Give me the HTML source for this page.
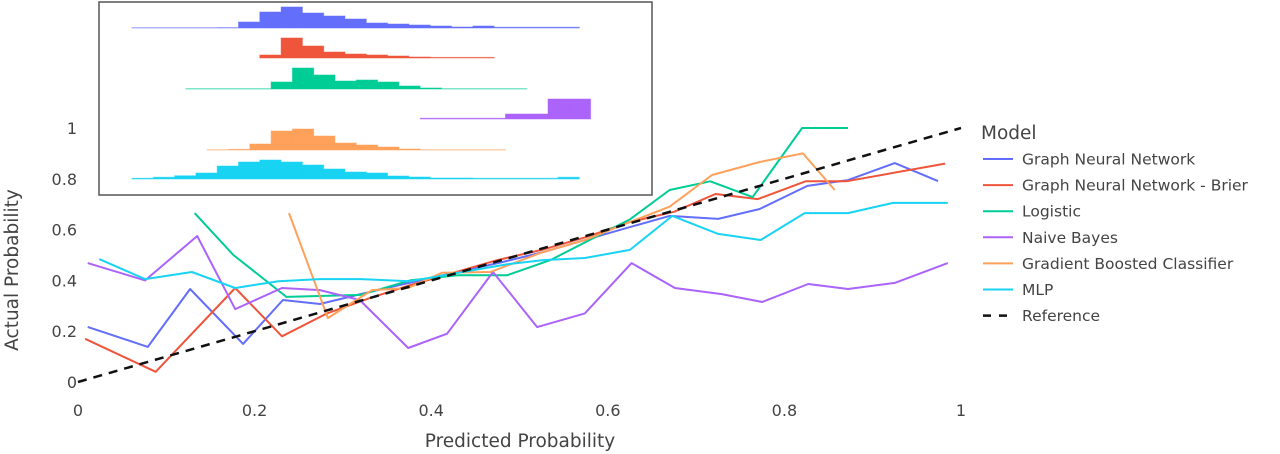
<!DOCTYPE html>
<html><head><meta charset="utf-8">
<style>
html,body{margin:0;padding:0;background:#fff;}
svg{display:block;font-family:"DejaVu Sans","Liberation Sans",sans-serif;}
</style></head>
<body>
<svg id="chart" width="1280" height="454" viewBox="0 0 1280 454" xmlns="http://www.w3.org/2000/svg">
<g id="axes"></g>
<g id="lines"></g>
<g id="inset"></g>
<g id="legend"></g>
<text x="520" y="447" text-anchor="middle" font-size="18.5" fill="#444">Predicted Probability</text>
<text transform="translate(18,270) rotate(-90)" text-anchor="middle" font-size="18.5" fill="#444">Actual Probability</text>
</svg>
<script>
const xTicks=[0,0.2,0.4,0.6,0.8,1];
const xTickLabels=["0","0.2","0.4","0.6","0.8","1"];
const yTicks=[0,0.2,0.4,0.6,0.8,1];
const yTickLabels=["0","0.2","0.4","0.6","0.8","1"];
const seriesNames=["Graph Neural Network","Graph Neural Network - Brier","Logistic","Naive Bayes","Gradient Boosted Classifier","MLP"];
const seriesColors=["#636efa","#ef553b","#00cc96","#ab63fa","#ffa15a","#19d3f3"];
const gnnX=[0.011,0.079,0.127,0.187,0.232,0.274,0.32,0.375,0.425,0.478,0.525,0.575,0.625,0.67,0.725,0.772,0.826,0.872,0.925,0.974];
const gnnY=[0.217,0.138,0.366,0.150,0.323,0.307,0.346,0.39,0.43,0.47,0.51,0.56,0.61,0.654,0.642,0.681,0.772,0.795,0.862,0.791];
const brierX=[0.008,0.088,0.178,0.231,0.282,0.33,0.375,0.425,0.475,0.525,0.575,0.625,0.675,0.722,0.77,0.824,0.87,0.982];
const brierY=[0.17,0.04,0.37,0.18,0.27,0.33,0.38,0.43,0.48,0.52,0.57,0.63,0.67,0.74,0.72,0.79,0.79,0.86];
const logX=[0.132,0.176,0.236,0.32,0.376,0.43,0.486,0.535,0.625,0.67,0.716,0.764,0.82,0.872];
const logY=[0.665,0.50,0.335,0.343,0.40,0.42,0.42,0.48,0.64,0.756,0.79,0.728,1.0,1.0];
const nbX=[0.011,0.076,0.135,0.178,0.231,0.274,0.319,0.374,0.418,0.47,0.52,0.574,0.627,0.676,0.729,0.775,0.827,0.872,0.925,0.985];
const nbY=[0.468,0.40,0.575,0.287,0.37,0.362,0.323,0.134,0.19,0.433,0.216,0.27,0.468,0.37,0.346,0.315,0.386,0.366,0.39,0.468];
const gbcX=[0.239,0.283,0.333,0.374,0.412,0.467,0.525,0.575,0.625,0.67,0.718,0.772,0.821,0.857];
const gbcY=[0.665,0.252,0.362,0.37,0.43,0.433,0.51,0.56,0.63,0.69,0.815,0.866,0.90,0.756];
const mlpX=[0.024,0.076,0.129,0.178,0.227,0.274,0.32,0.376,0.487,0.527,0.574,0.625,0.673,0.725,0.773,0.823,0.872,0.923,0.985];
const mlpY=[0.484,0.405,0.433,0.37,0.397,0.405,0.405,0.397,0.464,0.48,0.488,0.52,0.654,0.583,0.559,0.665,0.665,0.705,0.705];
const refX=[0,1];
const refY=[0,1];
const histGnn=[0.3,0.3,0.3,0.3,0.4,6,16,21,15,12,9,5,4,3,2,1,2,0.7,0.7,0.7,0.7];
const histBrier=[0,0,0,0,0,0,3,20,12,6,4,3,2,1,0.6,0.6,0.6,0,0,0,0];
const histLog=[0,0,0,0.3,0.3,0.3,0.3,7,21,14,8,9,7,3,1,0.3,0.3,0.3,0.3,0,0];
const histNb=[0,0,0,0,0,0,0,0,0,0,0,0,0,0,0.7,0.7,0.7,0.7,5,5,20,20];
const histGbc=[0,0,0,0,0.3,0.6,6,19,21,14,7,5,3,1,0.3,0.3,0.3,0.3,0,0,0];
const histMlp=[0.7,1.7,3.3,6,13,17,19,17,14,10,7,6,3,2,1,1,0.7,0.7,0.7,0.7,1.7];

const NS="http://www.w3.org/2000/svg";
const X0=78,X1=961,Y0=382,Y1=128;
function sx(v){return X0+(X1-X0)*v;}
function sy(v){return Y0-(Y0-Y1)*v;}
function mk(tag,attrs,parent){const e=document.createElementNS(NS,tag);for(const k in attrs)e.setAttribute(k,attrs[k]);parent.appendChild(e);return e;}

const axes=document.getElementById('axes');
xTicks.forEach((t,i)=>{
  const e=mk('text',{x:sx(t),y:416,'text-anchor':'middle','font-size':16,fill:'#444'},axes);
  
  
  e.textContent=xTickLabels[i];
});
yTicks.forEach((t,i)=>{
  const e=mk('text',{x:77,y:sy(t)+6,'text-anchor':'end','font-size':16,fill:'#444'},axes);
  
  
  e.textContent=yTickLabels[i];
});

const lines=document.getElementById('lines');
const allX=[gnnX,brierX,logX,nbX,gbcX,mlpX];
const allY=[gnnY,brierY,logY,nbY,gbcY,mlpY];
const lineNames=['line-graph-neural-network','line-gnn-brier','line-logistic','line-naive-bayes','line-gradient-boosted','line-mlp'];
allX.forEach((xs,s)=>{
  const pts=xs.map((x,i)=>sx(x).toFixed(1)+','+sy(allY[s][i]).toFixed(1)).join(' ');
  const p=mk('polyline',{points:pts,fill:'none',stroke:seriesColors[s],'stroke-width':2,'stroke-linejoin':'round'},lines);
  
  
});
const ref=mk('polyline',{points:refX.map((x,i)=>sx(x)+','+sy(refY[i])).join(' '),fill:'none',stroke:'#111','stroke-width':2.5,'stroke-dasharray':'9,7'},lines);



const inset=document.getElementById('inset');
const box=mk('rect',{x:99,y:2,width:553,height:193,fill:'#fff',stroke:'#555','stroke-width':1.5},inset);


const hists=[histGnn,histBrier,histLog,histNb,histGbc,histMlp];
const baselines=[28,58,89,119,150,179];
const starts=[132,132,122,122,122,132];
const histNames=['hist-graph-neural-network','hist-gnn-brier','hist-logistic','hist-naive-bayes','hist-gradient-boosted','hist-mlp'];
const BW=21.3;
hists.forEach((h,s)=>{
  let d='';
  const b=baselines[s];
  let first=true;
  h.forEach((v,i)=>{
    if(v<=0)return;
    const x=starts[s]+i*BW;
    if(first){d+='M'+x.toFixed(1)+','+b;first=false;}
    else d+='L'+x.toFixed(1)+','+b;
    d+='L'+x.toFixed(1)+','+(b-v).toFixed(1)+'L'+(x+BW).toFixed(1)+','+(b-v).toFixed(1)+'L'+(x+BW).toFixed(1)+','+b;
  });
  d+='Z';
  const p=mk('path',{d:d,fill:seriesColors[s],stroke:seriesColors[s],'stroke-width':1,'stroke-opacity':0.5},inset);
  
  
});

const lg=document.getElementById('legend');
const lt=mk('text',{x:981,y:139,'font-size':18.5,fill:'#444'},lg);


lt.textContent='Model';
const entries=seriesNames.concat(['Reference']);
entries.forEach((n,i)=>{
  const y=159+i*26.1;
  const g=mk('g',{},lg);
  
  
  if(i<6) mk('line',{x1:983,y1:y,x2:1013,y2:y,stroke:seriesColors[i],'stroke-width':2},g);
  else mk('line',{x1:983,y1:y,x2:1013,y2:y,stroke:'#111','stroke-width':2.5,'stroke-dasharray':'8,8'},g);
  const t=mk('text',{x:1022,y:y+5.5,'font-size':15.5,fill:'#444'},g);
  t.textContent=n;
});
</script>
</body></html>
